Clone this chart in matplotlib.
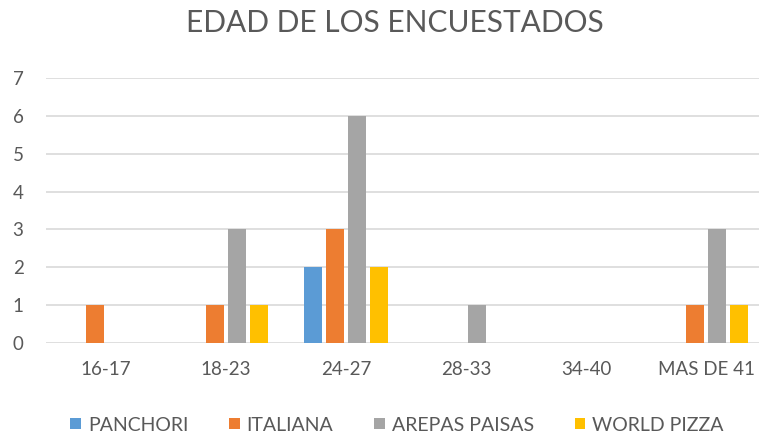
import matplotlib
matplotlib.use("Agg")
import matplotlib.pyplot as plt
import numpy as np

categories = ["16-17", "18-23", "24-27", "28-33", "34-40", "MAS DE 41"]
series_names = ["PANCHORI", "ITALIANA", "AREPAS PAISAS", "WORLD PIZZA"]
panchori = [0, 0, 2, 0, 0, 0]
italiana = [1, 1, 3, 0, 0, 1]
arepas = [0, 3, 6, 1, 0, 3]
world = [0, 1, 2, 0, 0, 1]
colors = ["#5B9BD5", "#ED7D31", "#A5A5A5", "#FFC000"]

plt.rcParams['font.family'] = ['Lato', 'DejaVu Sans']
txt = "#595959"

fig = plt.figure(figsize=(7.59, 4.36), dpi=100)
ax = fig.add_axes([46/759, 1 - 343/436, 1 - 46/759, (343 - 78)/436])

x = np.arange(len(categories))
step = 22/120
width = 18/120
for i, (vals, name) in enumerate(zip([panchori, italiana, arepas, world], series_names)):
    ax.bar(x + (i - 1.5) * step, vals, width, color=colors[i], label=name, zorder=3)

ax.set_xlim(-0.5, 5.5 - 7/120)
ax.set_ylim(0, 7)
ax.set_yticks(range(0, 8))
ax.yaxis.grid(True, color="#D9D9D9", linewidth=1.2, zorder=0)
for s in ax.spines.values():
    s.set_visible(False)
ax.tick_params(axis='both', length=0, colors=txt, labelsize=13.5)
ax.tick_params(axis='y', pad=24)
ax.tick_params(axis='x', pad=13)
for lab in ax.get_yticklabels():
    lab.set_horizontalalignment('left')
ax.set_xticks(x)
ax.set_xticklabels(categories)

fig.text(395/759, 1 - 23/436, "EDAD DE LOS ENCUESTADOS", ha='center', va='center',
         fontsize=21.5, color=txt)

fig.legend(loc='center', bbox_to_anchor=(397/759, 1 - 425/436), ncol=4, frameon=False,
           fontsize=14, labelcolor=txt, handlelength=0.55, handleheight=0.55,
           handletextpad=0.35, columnspacing=2.1)

fig.savefig("out.png", dpi=100)
